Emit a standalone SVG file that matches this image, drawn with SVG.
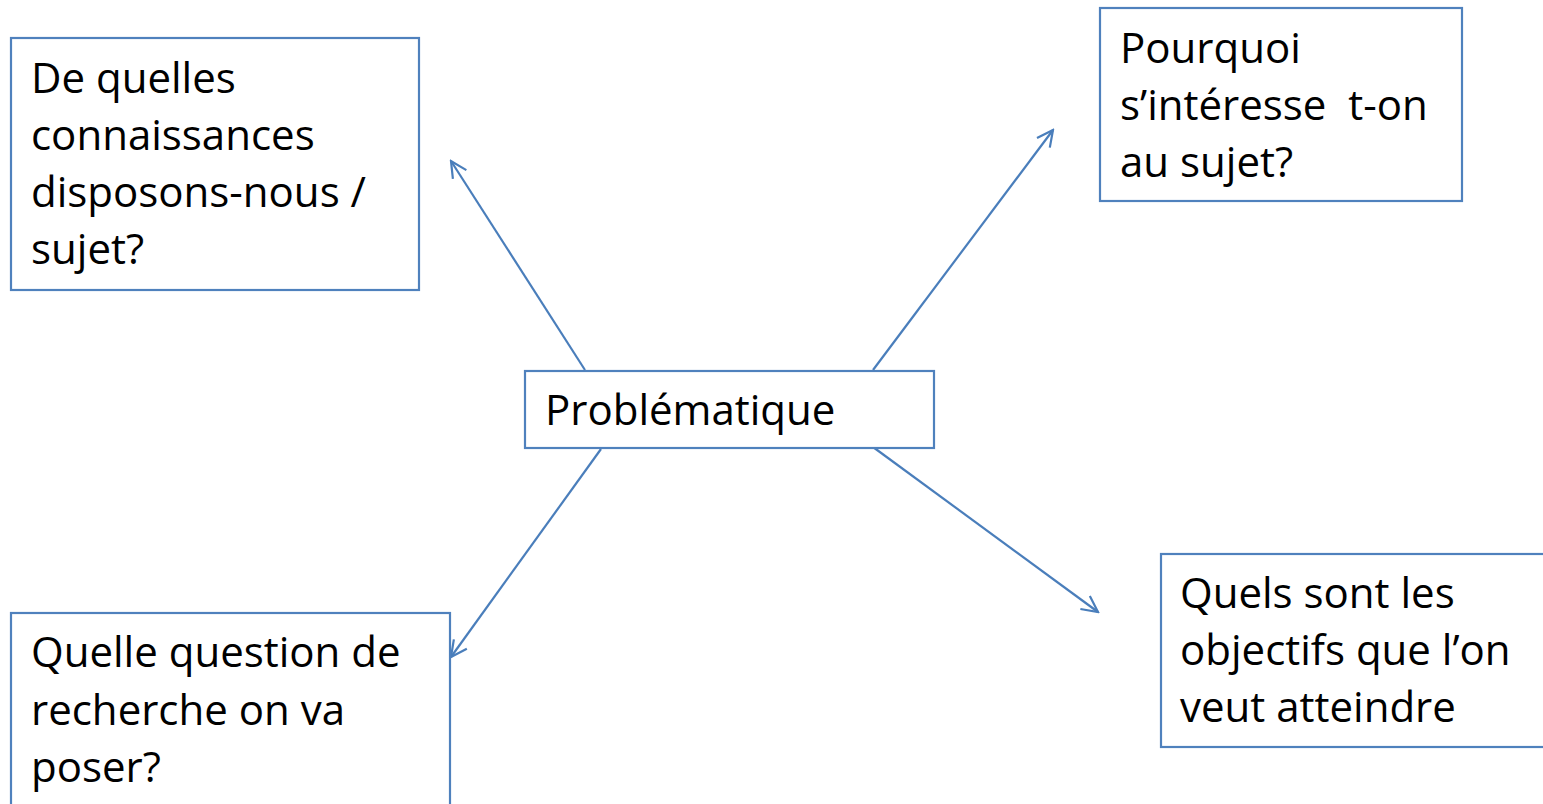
<svg xmlns="http://www.w3.org/2000/svg" width="1543" height="804" viewBox="0 0 1543 804">
<defs>
<style>
.box{fill:#fff;stroke:#4F81BD;stroke-width:2.2}
.t{font-family:"Open Sans","Liberation Sans",sans-serif;font-size:42px;fill:#000}
.c{stroke:#4A7EBB;stroke-width:2.2;fill:none}
</style>
<marker id="ah" viewBox="0 0 20 20" refX="18" refY="10" markerWidth="20" markerHeight="20" markerUnits="userSpaceOnUse" orient="auto">
<path d="M2,2 L18,10 L2,18" fill="none" stroke="#4A7EBB" stroke-width="2.2"/>
</marker>
</defs>
<rect width="1543" height="804" fill="#fff"/>
<g id="connectors">
<line class="c" x1="585" y1="370" x2="451" y2="161" marker-end="url(#ah)"/>
<line class="c" x1="873" y1="370" x2="1053" y2="130" marker-end="url(#ah)"/>
<line class="c" x1="601" y1="449" x2="451" y2="657" marker-end="url(#ah)"/>
<line class="c" x1="873" y1="447" x2="1098" y2="612" marker-end="url(#ah)"/>
</g>
<g id="node-connaissances">
<rect class="box" x="11" y="38" width="408" height="252"/>
<text class="t" x="31" y="93">De quelles</text>
<text class="t" x="31" y="150">connaissances</text>
<text class="t" x="31" y="207">disposons-nous /</text>
<text class="t" x="31" y="264">sujet?</text>
</g>
<g id="node-pourquoi">
<rect class="box" x="1100" y="8" width="362" height="193"/>
<text class="t" x="1120" y="63">Pourquoi</text>
<text class="t" x="1120" y="120" xml:space="preserve">s’intéresse  t-on</text>
<text class="t" x="1120" y="177">au sujet?</text>
</g>
<g id="node-problematique">
<rect class="box" x="525" y="371" width="409" height="77"/>
<text class="t" x="545" y="425">Problématique</text>
</g>
<g id="node-question">
<rect class="box" x="11" y="613" width="439" height="200"/>
<text class="t" x="31" y="667">Quelle question de</text>
<text class="t" x="31" y="725">recherche on va</text>
<text class="t" x="31" y="782">poser?</text>
</g>
<g id="node-objectifs">
<rect class="box" x="1161" y="554" width="400" height="193"/>
<text class="t" x="1180" y="608">Quels sont les</text>
<text class="t" x="1180" y="665">objectifs que l’on</text>
<text class="t" x="1180" y="722">veut atteindre</text>
</g>
</svg>
